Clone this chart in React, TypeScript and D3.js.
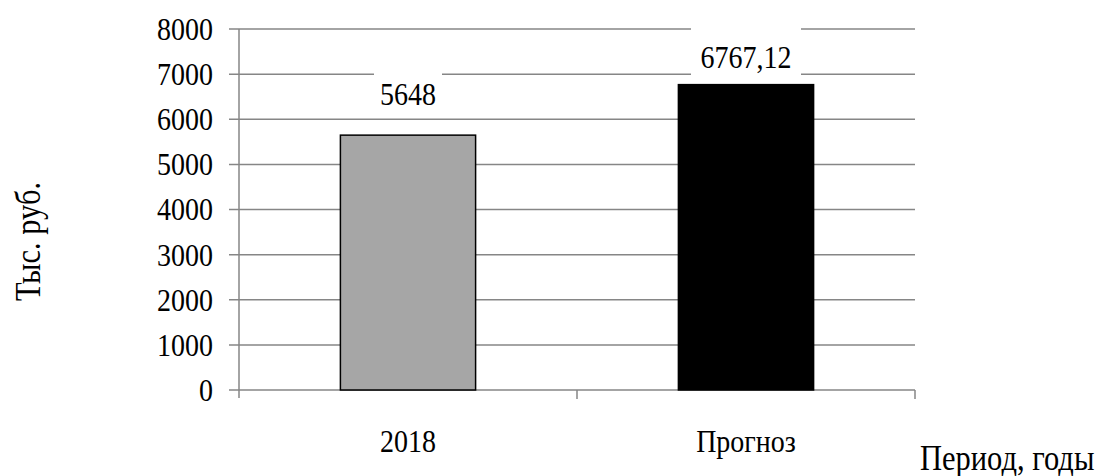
import React from "react";
import * as d3 from "d3";

const categories = ["2018", "Прогноз"];
const values = [5648, 6767.12];
const valueLabels = ["5648", "6767,12"];
const yTicks = [0, 1000, 2000, 3000, 4000, 5000, 6000, 7000, 8000];
const yTitle = "Тыс. руб.";
const xTitle = "Период, годы";

const W = 1099;
const H = 476;
const margin = { left: 239, right: 184, top: 29, bottom: 86 };
const FONT = "'Liberation Serif', 'DejaVu Serif', serif";
const FS = 28;
const TITLE_FS = 30.5;
const STRETCH = 1.15;
const GRID = "#868686";
const fills = ["#a6a6a6", "#000000"];
// vertical gap between each bar top and its label baseline
const labelGap = [30, 17];

type TProps = {
  x: number;
  y: number;
  size?: number;
  anchor?: "start" | "middle" | "end";
  rotate?: number;
  dy?: string;
  children: React.ReactNode;
};

// Text drawn slightly taller than wide, like the typeface of the chart
function T({ x, y, size = FS, anchor = "start", rotate = 0, dy, children }: TProps) {
  return (
    <text
      transform={`translate(${x},${y}) rotate(${rotate}) scale(1,${STRETCH})`}
      textAnchor={anchor}
      fontSize={size}
      dy={dy}
      fill="#000"
    >
      {children}
    </text>
  );
}

export default function App() {
  const x = d3
    .scaleBand<string>()
    .domain(categories)
    .range([margin.left, W - margin.right])
    .paddingInner(0.6)
    .paddingOuter(0.3);
  const band = d3
    .scaleBand<string>()
    .domain(categories)
    .range([margin.left, W - margin.right]);
  const y = d3.scaleLinear().domain([0, 8000]).range([H - margin.bottom, margin.top]);
  const x0 = margin.left;
  const x1 = W - margin.right;
  const y0 = y(0);

  return (
    <svg
      width={W}
      height={H}
      style={{ position: "absolute", left: 0, top: 0, background: "#fff" }}
      fontFamily={FONT}
    >
      {/* gridlines and y ticks */}
      {yTicks.map((t) => (
        <g key={t}>
          <line x1={x0 - 10} x2={x1} y1={y(t)} y2={y(t)} stroke={GRID} strokeWidth={1.5} />
          <T x={x0 - 26} y={y(t)} dy="0.34em" anchor="end">
            {t}
          </T>
        </g>
      ))}
      {/* y axis */}
      <line x1={x0} x2={x0} y1={y(8000)} y2={y0 + 8} stroke={GRID} strokeWidth={1.5} />
      {/* x axis tick marks at band boundaries */}
      {categories.map((c) => (
        <line
          key={c}
          x1={(band(c) as number) + band.bandwidth()}
          x2={(band(c) as number) + band.bandwidth()}
          y1={y0}
          y2={y0 + 9}
          stroke={GRID}
          strokeWidth={1.5}
        />
      ))}
      {/* bars */}
      {categories.map((c, i) => (
        <rect
          key={c}
          x={x(c)}
          y={y(values[i])}
          width={x.bandwidth()}
          height={y0 - y(values[i])}
          fill={fills[i]}
          stroke="#000"
          strokeWidth={1.5}
        />
      ))}
      {/* value labels with white backing */}
      {categories.map((c, i) => {
        const cx = (x(c) as number) + x.bandwidth() / 2;
        const base = y(values[i]) - labelGap[i];
        const w = valueLabels[i].length * FS * 0.5 + 12;
        return (
          <g key={c}>
            <rect x={cx - w / 2} y={base - 40} width={w} height={48} fill="#fff" />
            <T x={cx} y={base} anchor="middle">
              {valueLabels[i]}
            </T>
          </g>
        );
      })}
      {/* category labels */}
      {categories.map((c) => (
        <T key={c} x={(x(c) as number) + x.bandwidth() / 2} y={452} anchor="middle">
          {c}
        </T>
      ))}
      {/* axis titles */}
      <T x={40} y={(y(8000) + y0) / 2 + 32} anchor="middle" rotate={-90} size={TITLE_FS}>
        {yTitle}
      </T>
      <T x={920} y={470} size={TITLE_FS}>
        {xTitle}
      </T>
    </svg>
  );
}
